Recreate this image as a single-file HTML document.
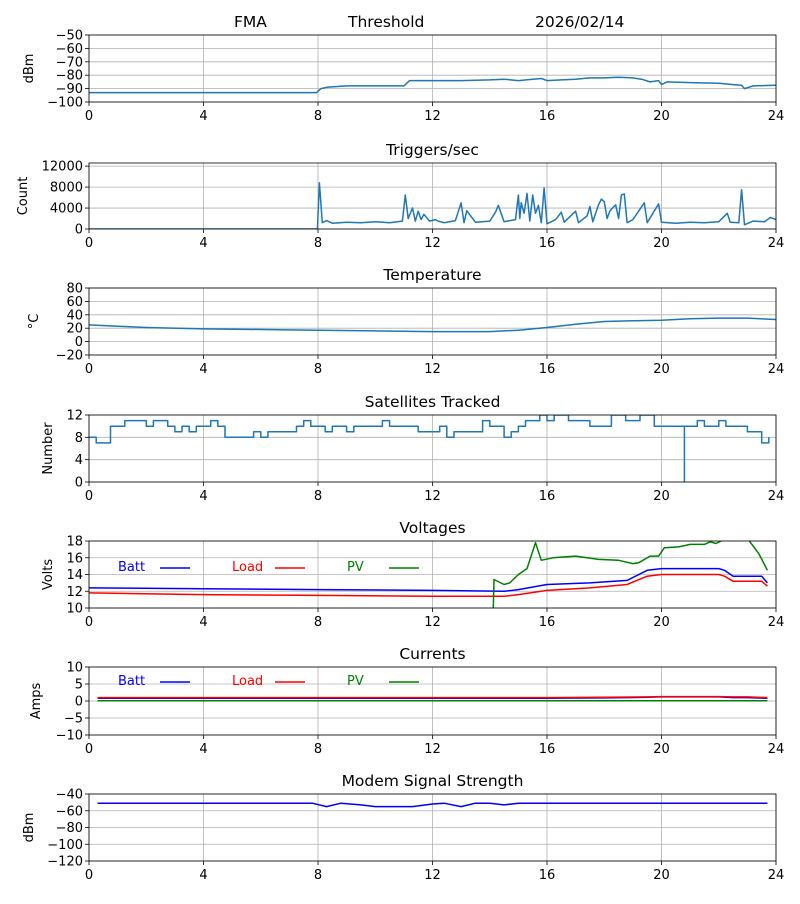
<!DOCTYPE html>
<html><head><meta charset="utf-8"><style>
body{margin:0;background:#fff;font-family:"DejaVu Sans","Liberation Sans",sans-serif;}
svg text{font-family:"DejaVu Sans","Liberation Sans",sans-serif;}
</style></head><body>
<svg id="c" width="800" height="900" xmlns="http://www.w3.org/2000/svg"></svg>
<script>
// ---- data ----
const hourTicks=[0,4,8,12,16,20,24];
const sigHours=[0,7.95,8.1,8.3,9,10,11,11.2,11.5,12,13,14,14.5,15,15.5,15.8,16,16.5,17,17.5,18,18.5,19,19.3,19.6,19.9,20,20.2,21,22,22.5,22.8,22.9,23.2,24];
const sigValues=[-93,-93,-90,-89,-88,-88,-88,-84,-84,-84,-84,-83.5,-83,-84,-83,-82.5,-84,-83.5,-83,-82,-82,-81.5,-82,-83,-85,-84,-87,-85,-85.5,-86,-87,-87.5,-90,-88,-87.5];
const trigHours=[0,7.98,8.05,8.15,8.3,8.5,9,9.5,10,10.5,10.95,11.05,11.15,11.3,11.4,11.5,11.6,11.7,11.9,12.1,12.2,12.4,12.8,13.0,13.1,13.2,13.5,14.0,14.2,14.3,14.5,14.9,15.0,15.05,15.1,15.2,15.3,15.4,15.5,15.6,15.7,15.8,15.9,16.0,16.3,16.5,16.6,17.0,17.1,17.4,17.5,17.6,17.8,17.9,18.0,18.1,18.2,18.4,18.5,18.6,18.7,18.8,19.0,19.4,19.5,19.9,20.0,20.5,21.0,21.5,22.0,22.3,22.4,22.7,22.8,22.9,23.2,23.6,23.8,24];
const trigValues=[0,0,8800,1200,1600,1100,1300,1200,1400,1200,1500,6500,2000,4000,1500,3400,1800,2800,1500,1800,1500,1200,1600,5000,1200,3500,1300,1500,3200,4500,1400,1800,6500,2000,5000,3000,6800,1500,6500,3000,4500,1200,7800,1000,1800,3200,1300,3400,1200,2500,4300,1400,4600,5700,5200,2000,3500,4600,2000,6500,6700,1200,1800,5000,1200,4800,1300,1100,1300,1200,1400,3000,1300,1200,7500,800,1500,1400,2200,1800];
const tempHours=[0,1,2,4,6,8,10,12,14,15,16,17,18,19,20,21,22,23,24];
const tempValues=[25,23,21,19,18,17,16,15,15,17,21,26,30,31,32,34,35,35,33];
const satValues=[8,7,7,10,10,11,11,11,10,11,11,10,9,10,9,10,10,11,10,8,8,8,8,9,8,9,9,9,9,10,11,10,10,9,10,10,9,10,10,10,10,11,10,10,10,10,9,9,9,10,8,9,9,9,9,11,10,10,8,9,10,11,11,12,11,12,12,11,11,11,10,10,10,12,12,11,11,12,12,10,10,10,10,10,10,11,10,10,11,10,10,10,9,9,7,8];
const satDropHours=[20.8];
const satDropValues=[0];
const voltHours=[0,4,8,12,14.5,15,16,17.5,18.8,19.5,20,22,22.2,22.5,23.5,23.7];
const battVolts=[12.4,12.3,12.2,12.1,12.0,12.2,12.8,13.0,13.3,14.5,14.7,14.7,14.5,13.8,13.8,13.0];
const loadVolts=[11.8,11.6,11.5,11.4,11.4,11.6,12.1,12.4,12.8,13.8,14.0,14.0,13.8,13.2,13.2,12.6];
const pvHours=[0,14.05,14.15,14.5,14.7,15.0,15.3,15.6,15.8,16.2,17.0,17.8,18.5,19.0,19.2,19.6,19.9,20.1,20.6,21.0,21.5,21.7,21.9,22.2,22.6,23.0,23.4,23.7];
const pvVolts=[0,0,13.4,12.8,13.0,14.0,14.7,17.8,15.7,16.0,16.2,15.8,15.7,15.3,15.4,16.2,16.2,17.2,17.3,17.6,17.6,17.9,17.7,18.2,18.6,18.3,16.5,14.5];
const currHours=[0.3,4,8,12,16,18,19.5,20,22,22.5,23,23.7];
const battAmps=[0.8,0.8,0.8,0.8,0.8,0.9,1.1,1.2,1.2,1.0,1.0,0.8];
const loadAmps=[1.0,1.0,1.0,1.0,1.0,1.1,1.2,1.3,1.3,1.2,1.2,1.0];
const pvAmps=[0.1,0.1,0.1,0.1,0.1,0.1,0.1,0.1,0.1,0.1,0.1,0.1];
const modemHours=[0.3,2,4,6,7.8,8.3,8.8,9.5,10,11.3,12,12.4,13,13.5,14,14.5,15,16,18,20,22,23.7];
const modemValues=[-51,-51,-51,-51,-51,-55,-51,-53,-55,-55,-52,-51,-55,-51,-51,-53,-51,-51,-51,-51,-51,-51];

const svg=document.getElementById('c');
const NS='http://www.w3.org/2000/svg';
const L=89,R=776;
function mk(tag,attrs,parent){const e=document.createElementNS(NS,tag);for(const k in attrs)e.setAttribute(k,attrs[k]);(parent||svg).appendChild(e);return e;}
function xs(h){return L+(R-L)*h/24;}

function panel(p){
  const g=mk('g',{});
  
  
  const ys=v=>p.bot-(p.bot-p.top)*(v-p.min)/(p.max-p.min);
  const cid='clip-'+p.name;
  const cp=mk('clipPath',{id:cid},g);mk('rect',{x:L,y:p.top,width:R-L,height:p.bot-p.top},cp);
  hourTicks.forEach(h=>{
    const gl=mk('line',{x1:xs(h),x2:xs(h),y1:p.top,y2:p.bot,stroke:'#b0b0b0','stroke-width':0.8},g);
    
    
    mk('line',{x1:xs(h),x2:xs(h),y1:p.bot,y2:p.bot+4,stroke:'#000','stroke-width':0.8},g);
    const t=mk('text',{x:xs(h),y:p.bot+18,'text-anchor':'middle','font-size':13},g);t.textContent=h;
    
    
  });
  p.ticks.forEach(v=>{
    const y=ys(v);
    mk('line',{x1:L,x2:R,y1:y,y2:y,stroke:'#b0b0b0','stroke-width':0.8},g);
    mk('line',{x1:L-4,x2:L,y1:y,y2:y,stroke:'#000','stroke-width':0.8},g);
    const t=mk('text',{x:L-6,y:y+4.5,'text-anchor':'end','font-size':13},g);t.textContent=(v<0?'\u2212'+(-v):v);
    
    
  });
  const dg=mk('g',{'clip-path':'url(#'+cid+')'},g);
  p.series.forEach(s=>{
    let d='';
    for(let i=0;i<s.h.length;i++){
      const x=xs(s.h[i]),y=ys(s.v[i]);
      if(s.step&&i>0)d+='L'+x.toFixed(1)+','+ys(s.v[i-1]).toFixed(1);
      d+=(i?'L':'M')+x.toFixed(1)+','+y.toFixed(1);
    }
    const pe=mk('path',{d:d,fill:'none',stroke:s.c,'stroke-width':1.5,'stroke-linejoin':'round'},dg);
    
    
  });
  if(p.drops)p.drops.h.forEach((h,i)=>{
    const dl=mk('line',{x1:xs(h),x2:xs(h),y1:ys(10),y2:ys(p.drops.v[i]),stroke:'#1f77b4','stroke-width':1.5},dg);
    
    
  });
  const fr=mk('rect',{x:L,y:p.top,width:R-L,height:p.bot-p.top,fill:'none',stroke:'#000','stroke-width':0.8},g);
  
  
  if(p.title){const t=mk('text',{x:(L+R)/2,y:p.top-8,'text-anchor':'middle','font-size':15.5},g);t.textContent=p.title;
    
    }
  const yl=mk('text',{x:0,y:0,'text-anchor':'middle','font-size':13,transform:`translate(${p.ylx},${(p.top+p.bot)/2}) rotate(-90)`},g);yl.textContent=p.ylabel;
  
  
  if(p.legend){
    const items=[['Batt','blue',118,160],['Load','red',232,275],['PV','green',347,389]];
    items.forEach(it=>{
      const t=mk('text',{x:it[2],y:p.top+p.legend,'font-size':13,fill:it[1]},g);t.textContent=it[0];
      
      
      mk('line',{x1:it[3],x2:it[3]+30,y1:p.top+p.legend-3,y2:p.top+p.legend-3,stroke:it[1],'stroke-width':1.5},g);
    });
  }
}
const hAll=satValues.map((v,i)=>i*0.25);
panel({name:'signal-panel',top:35,bot:102,min:-100,max:-50,ticks:[-100,-90,-80,-70,-60,-50],ylabel:'dBm',ylx:33,
  series:[{h:sigHours,v:sigValues,c:'#1f77b4',n:'signal-line'}]});
panel({name:'triggers-panel',top:163,bot:229,min:0,max:12600,ticks:[0,4000,8000,12000],title:'Triggers/sec',ylabel:'Count',ylx:27,
  series:[{h:trigHours,v:trigValues,c:'#1f77b4',n:'triggers-line'}]});
panel({name:'temperature-panel',top:288,bot:355,min:-20,max:80,ticks:[-20,0,20,40,60,80],title:'Temperature',ylabel:'\u00B0C',ylx:38,
  series:[{h:tempHours,v:tempValues,c:'#1f77b4',n:'temperature-line'}]});
panel({name:'satellites-panel',top:415,bot:482,min:0,max:12,ticks:[0,4,8,12],title:'Satellites Tracked',ylabel:'Number',ylx:52,
  series:[{h:hAll,v:satValues,c:'#1f77b4',n:'satellites-line',step:true}],drops:{h:satDropHours,v:satDropValues}});
panel({name:'voltages-panel',top:541,bot:608,min:10,max:18,ticks:[10,12,14,16,18],title:'Voltages',ylabel:'Volts',ylx:52,legend:30,
  series:[{h:voltHours,v:battVolts,c:'blue',n:'batt-voltage-line'},{h:voltHours,v:loadVolts,c:'red',n:'load-voltage-line'},{h:pvHours,v:pvVolts,c:'green',n:'pv-voltage-line'}]});
panel({name:'currents-panel',top:667,bot:735,min:-10,max:10,ticks:[-10,-5,0,5,10],title:'Currents',ylabel:'Amps',ylx:40,legend:18,
  series:[{h:currHours,v:pvAmps,c:'green',n:'pv-current-line'},{h:currHours,v:battAmps,c:'blue',n:'batt-current-line'},{h:currHours,v:loadAmps,c:'red',n:'load-current-line'}]});
panel({name:'modem-panel',top:794,bot:861,min:-120,max:-40,ticks:[-120,-100,-80,-60,-40],title:'Modem Signal Strength',ylabel:'dBm',ylx:33,
  series:[{h:modemHours,v:modemValues,c:'blue',n:'modem-signal-line'}]});
[['FMA',234],['Threshold',348],['2026/02/14',535]].forEach(a=>{
  const t=mk('text',{x:a[1],y:27,'font-size':15.5});t.textContent=a[0];
  
  
});
</script>
</body></html>
